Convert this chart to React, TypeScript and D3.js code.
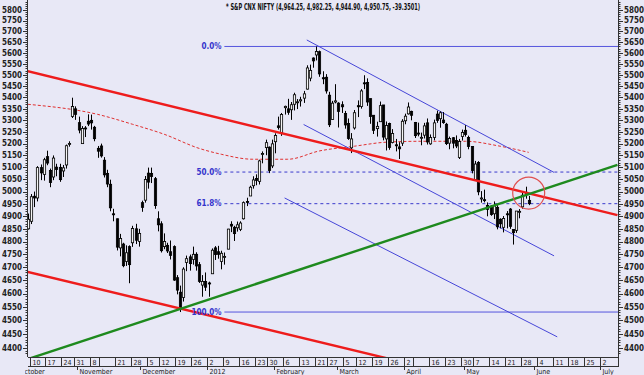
import React from "react";
import * as d3 from "d3";

// ---------- calendar ----------
const HOLIDAYS = ["2011-10-06","2011-10-27","2011-11-07","2011-11-10","2011-12-06","2012-01-26","2012-02-20","2012-03-08","2012-04-05","2012-04-06","2012-05-01"];
const FIRST_DAY = "2011-10-03";
const LAST_DAY = "2012-07-13";
const ORIGIN_DAY = "2011-10-10";
const CANDLE_FROM = "2011-10-07";
const CANDLE_TO = "2012-05-30";

// ---------- OHLC (Oct 2011 .. May 2012) ----------
const OPEN = [
  4850,4880,4981,4974,5099,5070,5145,5087,5060,5101,5100,5085,5110,5201,5317,5350,
  5290,5200,5267,5296,5300,5270,5180,5190,5130,5075,5030,4910,4890,4775,4790,4722,4780,4795,4850,4800,
  4955,4965,5076,5075,5053,4890,4870,4780,4785,4760,4780,4660,4605,4585,4718,4740,4730,4750,4710,4632,4646,
  4640,4675,4775,4760,4722,4742,4770,4868,4856,4854,4848,4890,4960,4982,5024,5054,5042,5157,5183,5185,5106,
  5208,5276,5247,5355,5350,5346,5370,5378,5385,5397,5437,5486,5577,5591,5606,5488,5490,5410,5304,5380,
  5375,5368,5330,5286,5182,5267,5364,5360,5465,5467,5395,5322,5264,5294,5367,5220,5286,5205,5195,5186,5202,
  5298,5328,5339,5291,5245,5226,5236,5289,5199,5226,5327,5307,5301,5283,5202,5225,5213,5141,5230,
  5257,5226,5188,5049,5120,4974,4967,4944,4941,4910,4936,4888,4856,4910,4929,4847,4844,4919,4938,4997,4964.25,
];
const HIGH = [
  4911,4990,5000,5105,5112,5140,5170,5095,5150,5115,5115,5110,5196,5210,5399,5361,
  5316,5275,5275,5326,5325,5276,5190,5200,5143,5090,5049,4930,4891,4830,4795,4785,4785,4862,4870,4850,
  4963,5064,5099,5099,5060,4920,4880,4832,4795,4804,4785,4670,4630,4700,4745,4749,4780,4758,4720,4670,4680,
  4645,4773,4782,4783,4764,4757,4850,4880,4862,4879,4880,4960,4975,5024,5063,5071,5132,5167,5217,5188,5217,
  5244,5316,5332,5364,5394,5380,5421,5393,5403,5429,5544,5547,5580,5630,5611,5517,5504,5425,5385,5459,
  5379,5383,5341,5308,5245,5345,5387,5437,5499,5485,5395,5322,5294,5382,5367,5295,5290,5262,5220,5206,5305,
  5329,5378,5342,5293,5290,5247,5289,5308,5239,5303,5342,5339,5336,5289,5230,5228,5235,5220,5260,
  5279,5234,5189,5127,5126,5002,5008,4956,4944,4960,4945,4892,4901,4921,4933,4848,4921,4929,4995,5020,4982.25,
];
const LOW = [
  4847,4869,4937,4960,5047,5045,5109,5018,5047,5063,5040,5060,5095,5187,5310,5302,
  5244,5200,5228,5275,5260,5210,5140,5141,5058,5018,4920,4880,4765,4742,4700,4705,4639,4779,4790,4780,
  4918,4955,5012,5035,4930,4840,4757,4770,4755,4730,4648,4597,4531,4570,4685,4687,4710,4687,4640,4588,4610,
  4588,4675,4728,4733,4692,4710,4770,4837,4802,4839,4841,4887,4941,4982,5012,5026,5029,5117,5151,5076,5097,
  5159,5260,5233,5325,5324,5302,5343,5349,5360,5376,5435,5472,5533,5566,5492,5459,5417,5271,5303,5374,
  5269,5332,5264,5216,5160,5260,5314,5351,5437,5363,5285,5241,5230,5294,5214,5171,5174,5201,5167,5135,5190,
  5283,5325,5300,5224,5231,5193,5222,5196,5195,5214,5289,5268,5285,5194,5176,5180,5181,5135,5213,
  5230,5176,5075,5049,4985,4955,4956,4900,4902,4889,4848,4852,4836,4852,4850,4788,4834,4892,4930,4971,4944.9,
];
const CLOSE = [
  4888,4979,4974,5099,5077,5132,5118,5037,5139,5091,5049,5098,5191,5201,5360,5326,
  5258,5265,5265,5284,5289,5221,5168,5148,5069,5031,4934,4906,4778,4812,4706,4756,4710,4851,4805,4832,
  4936,5050,5039,5062,4943,4866,4764,4800,4763,4746,4651,4613,4544,4693,4733,4714,4750,4705,4646,4646,4624,
  4637,4766,4749,4750,4754,4742,4849,4861,4831,4866,4873,4955,4956,5018,5048,5046,5127,5158,5204,5087,5199,
  5235,5269,5325,5361,5335,5368,5412,5381,5390,5416,5532,5521,5564,5607,5505,5483,5429,5281,5375,5385,
  5339,5359,5280,5222,5220,5333,5359,5429,5463,5380,5317,5257,5274,5364,5228,5278,5184,5243,5194,5178,5296,
  5318,5358,5322,5234,5243,5227,5276,5207,5226,5289,5300,5333,5290,5200,5222,5202,5190,5209,5248,
  5239,5188,5087,5114,4999,4974,4965,4928,4907,4942,4858,4870,4891,4906,4860,4835,4921,4920,4985,4990,4950.75,
];

// ---------- moving average (dashed red) ----------
const MA_DATES = ["2011-10-07","2011-11-11","2011-11-28","2011-12-13","2011-12-28","2012-01-06","2012-01-20","2012-02-07","2012-02-22","2012-03-09","2012-03-23","2012-04-11","2012-05-02","2012-05-17","2012-05-30"];
const MA_VALUES = [5370,5326,5283,5240,5180,5155,5134,5134,5169,5189,5206,5210,5210,5189,5163];

// ---------- drawn trend lines (date, price) ----------
const RED_UPPER_DATES = ["2011-10-07","2012-07-09"];
const RED_UPPER_PRICES = [5517,4905];
const RED_LOWER_DATES = ["2011-10-07","2012-03-30"];
const RED_LOWER_PRICES = [4682,4350];
const GREEN_DATES = ["2011-10-07","2012-07-09"];
const GREEN_PRICES = [4360,5110];
const BLUE_UPPER_DATES = ["2012-02-15","2012-06-11"];
const BLUE_UPPER_PRICES = [5660,5079];
const BLUE_MID_DATES = ["2012-02-14","2012-06-11"];
const BLUE_MID_PRICES = [5282,4744];
const BLUE_LOW_DATES = ["2012-02-06","2012-06-12"];
const BLUE_LOW_PRICES = [4974,4440];
const CIRCLE_DATE = "2012-05-30";
const CIRCLE_PRICE = 4994;

// ---------- fibonacci ----------
const FIB_RATIOS = [0, 0.5, 0.618, 1];
const FIB_LABELS = ["0.0%", "50.0%", "61.8%", "100.0%"];
const FIB_DASHED = [false, true, true, false];
const FIB_START = "2012-01-09";

// ---------- axes ----------
const Y_TICKS = [4400,4450,4500,4550,4600,4650,4700,4750,4800,4850,4900,4950,5000,5050,5100,5150,5200,5250,5300,5350,5400,5450,5500,5550,5600,5650,5700,5750,5800];
const WEEK_STARTS = ["2011-10-10","2011-10-17","2011-10-24","2011-10-31","2011-11-08","2011-11-14","2011-11-21","2011-11-28","2011-12-05","2011-12-12","2011-12-19","2011-12-26","2012-01-02","2012-01-09","2012-01-16","2012-01-23","2012-01-30","2012-02-06","2012-02-13","2012-02-21","2012-02-27","2012-03-05","2012-03-12","2012-03-19","2012-03-26","2012-04-02","2012-04-09","2012-04-16","2012-04-23","2012-04-30","2012-05-07","2012-05-14","2012-05-21","2012-05-28","2012-06-04","2012-06-11","2012-06-18","2012-06-25","2012-07-02"];
const WEEK_LABELS = ["10","17","24","31","8","","21","28","5","12","19","26","2","9","16","23","30","6","13","21","27","5","12","19","26","2","","16","23","30","7","14","21","28","4","11","18","25","2"];
const MONTH_STARTS = ["2011-10-03","2011-11-01","2011-12-01","2012-01-02","2012-02-01","2012-03-01","2012-04-02","2012-05-02","2012-06-01","2012-07-02"];
const MONTH_LABELS = ["October","November","December","2012","February","March","April","May","June","July"];

const TITLE = "* S&P CNX NIFTY (4,964.25, 4,982.25, 4,944.90, 4,950.75, -39.3501)";

// ---------- layout ----------
const W = 644, H = 375;
const PL = 28, PR = 618, PT = 0, PB = 357;
const BG = "#e8e8f6";
const FONT = "'Liberation Sans Narrow','Arial Narrow','DejaVu Sans Condensed','Liberation Sans',sans-serif";

function buildCalendar(): string[] {
  const out: string[] = [];
  const hol = new Set(HOLIDAYS);
  let t = Date.parse(FIRST_DAY + "T00:00:00Z");
  const end = Date.parse(LAST_DAY + "T00:00:00Z");
  while (t <= end) {
    const d = new Date(t);
    const wd = d.getUTCDay();
    const s = d.toISOString().slice(0, 10);
    if (wd !== 0 && wd !== 6 && !hol.has(s)) out.push(s);
    t += 86400000;
  }
  return out;
}

const CAL = buildCalendar();
const POS = new Map(CAL.map((d, i) => [d, i] as [string, number]));
const T = (d: string) => (POS.get(d) as number) - (POS.get(ORIGIN_DAY) as number);
const DATES = CAL.slice(POS.get(CANDLE_FROM) as number, (POS.get(CANDLE_TO) as number) + 1);

const x = d3.scaleLinear().domain([0, 180]).range([31, 601.6]);
const y = d3.scaleLog().domain([4371, 5848]).range([PB - 1, PT]);

function seg(dates: string[], prices: number[]) {
  return { x1: x(T(dates[0])), y1: y(prices[0]), x2: x(T(dates[1])), y2: y(prices[1]) };
}

export default function App() {
  const hi = d3.max(HIGH) as number;
  const lo = d3.min(LOW) as number;
  const maLine = d3.line<number>()
    .x((_, i) => x(T(MA_DATES[i])))
    .y((v) => y(v))
    .curve(d3.curveMonotoneX)(MA_VALUES) as string;
  const minor = d3.range(4380, 5850, 10);
  const redU = seg(RED_UPPER_DATES, RED_UPPER_PRICES);
  const redL = seg(RED_LOWER_DATES, RED_LOWER_PRICES);
  const grn = seg(GREEN_DATES, GREEN_PRICES);
  const bU = seg(BLUE_UPPER_DATES, BLUE_UPPER_PRICES);
  const bM = seg(BLUE_MID_DATES, BLUE_MID_PRICES);
  const bL = seg(BLUE_LOW_DATES, BLUE_LOW_PRICES);
  const fibX = x(T(FIB_START));
  const bw = 2.3;

  return (
    <svg width={W} height={H} style={{ position: "absolute", left: 0, top: 0, background: BG }} fontFamily={FONT}>
      <defs>
        <clipPath id="plot"><rect x={PL} y={PT} width={PR - PL} height={PB - PT} /></clipPath>
        <clipPath id="months"><rect x={PL - 3} y={PB} width={W - PL} height={H - PB} /></clipPath>
      </defs>
      <rect x={0} y={0} width={W} height={H} fill={BG} />

      {/* title */}
      <text x={226} y={10} fontSize={8} fontWeight="bold" fill="#111" textLength={194} lengthAdjust="spacingAndGlyphs">{TITLE}</text>

      <g clipPath="url(#plot)">
        {/* fib levels */}
        {FIB_RATIOS.map((r, i) => {
          const v = hi - r * (hi - lo);
          return (
            <line key={"f" + i} x1={fibX} x2={PR} y1={y(v)} y2={y(v)} stroke={FIB_DASHED[i] ? "#3a3acc" : "#5555dd"} strokeWidth={1} strokeDasharray={FIB_DASHED[i] ? "3,3" : undefined} />
          );
        })}
        {/* MA */}
        <path d={maLine} fill="none" stroke="#e03030" strokeWidth={1} strokeDasharray="3,2" />
        {/* blue channel */}
        {[bU, bM, bL].map((s, i) => (
          <line key={"b" + i} {...s} stroke="#4646d8" strokeWidth={1} />
        ))}
        {/* candles */}
        {DATES.map((d, i) => {
          const cx = Math.round(x(T(d))) + 0.5;
          const o = OPEN[i], c = CLOSE[i];
          const top = y(Math.max(o, c)), bot = y(Math.min(o, c));
          const up = c >= o;
          return (
            <g key={d}>
              <line x1={cx} x2={cx} y1={y(HIGH[i])} y2={y(LOW[i])} stroke="#000" strokeWidth={1} />
              <rect x={cx - bw / 2} y={top} width={bw} height={Math.max(bot - top, 1)} fill={up ? "#f4f4f4" : "#000"} stroke="#000" strokeWidth={0.8} />
            </g>
          );
        })}
        {/* thick trend lines */}
        <line {...redU} stroke="#ee1c1c" strokeWidth={2.4} />
        <line {...redL} stroke="#ee1c1c" strokeWidth={2.4} />
        <line {...grn} stroke="#1e8a1e" strokeWidth={2.4} />
        <circle cx={x(T(CIRCLE_DATE))} cy={y(CIRCLE_PRICE)} r={16} fill="none" stroke="#e05050" strokeWidth={1.2} />
      </g>

      {/* fib labels */}
      {FIB_RATIOS.map((r, i) => {
        const v = hi - r * (hi - lo);
        return (
          <text key={"fl" + i} x={fibX - 3} y={y(v)} dy="0.35em" textAnchor="end" fontSize={8} fontWeight="bold" fill="#3434cc">{FIB_LABELS[i]}</text>
        );
      })}

      {/* y axes */}
      <line x1={PL - 0.5} x2={PL - 0.5} y1={PT} y2={PB} stroke="#333" />
      <line x1={PR + 0.5} x2={PR + 0.5} y1={PT} y2={PB} stroke="#333" />
      {minor.map((v) => (
        <g key={"m" + v}>
          <line x1={PL - 2.5} x2={PL - 0.5} y1={Math.round(y(v)) + 0.5} y2={Math.round(y(v)) + 0.5} stroke="#333" />
          <line x1={PR + 0.5} x2={PR + 2.5} y1={Math.round(y(v)) + 0.5} y2={Math.round(y(v)) + 0.5} stroke="#333" />
        </g>
      ))}
      {Y_TICKS.map((v) => (
        <g key={"t" + v}>
          <line x1={PL - 5} x2={PL - 0.5} y1={Math.round(y(v)) + 0.5} y2={Math.round(y(v)) + 0.5} stroke="#333" />
          <line x1={PR + 0.5} x2={PR + 5} y1={Math.round(y(v)) + 0.5} y2={Math.round(y(v)) + 0.5} stroke="#333" />
          <text x={PL - 6} y={y(v)} dy="0.35em" textAnchor="end" fontSize={8} fontWeight="bold" fill="#222">{v}</text>
          <text x={PR + 6} y={y(v)} dy="0.35em" textAnchor="start" fontSize={8} fontWeight="bold" fill="#222">{v}</text>
        </g>
      ))}

      {/* x axis */}
      <line x1={PL} x2={PR + 1} y1={PB + 0.5} y2={PB + 0.5} stroke="#333" />
      <line x1={PL} x2={PR + 1} y1={PB + 9.5} y2={PB + 9.5} stroke="#333" />
      {WEEK_STARTS.map((d, i) => {
        const xx = Math.round(x(T(d)) - 1.5) + 0.5;
        return (
          <g key={"w" + d}>
            <line x1={xx} x2={xx} y1={PB} y2={PB + 9.5} stroke="#333" />
            <text x={xx + 2} y={PB + 8} fontSize={7} fill="#222">{WEEK_LABELS[i]}</text>
          </g>
        );
      })}
      <line x1={PR + 0.5} x2={PR + 0.5} y1={PB} y2={PB + 9.5} stroke="#333" />
      <g clipPath="url(#months)">
        {MONTH_STARTS.map((d, i) => {
          const xx = Math.round(x(T(d)) - 1.5) + 0.5;
          return (
            <g key={"mo" + d}>
              <line x1={xx} x2={xx} y1={PB + 9.5} y2={PB + 13} stroke="#333" />
              <text x={xx + 2} y={PB + 17} fontSize={7} fill="#222">{MONTH_LABELS[i]}</text>
            </g>
          );
        })}
      </g>
    </svg>
  );
}
